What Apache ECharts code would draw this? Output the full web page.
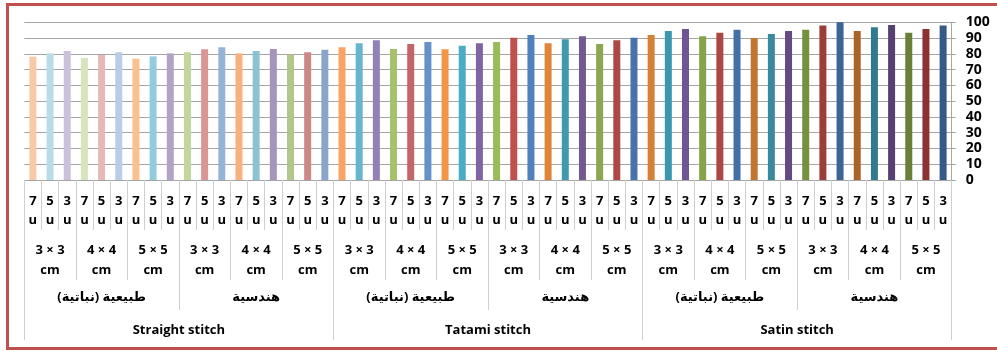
<!DOCTYPE html>
<html>
<head>
<meta charset="utf-8">
<script src="https://cdn.jsdelivr.net/npm/echarts@6/dist/echarts.min.js"></script>
<style>
  html, body { margin: 0; padding: 0; background: #fff; }
  #chart { width: 997px; height: 351px; }
</style>
</head>
<body>
<div id="chart"></div>
<script>
// Hierarchy of categories: stitch > motif type > size > needle
const stitches = ['Straight stitch', 'Tatami stitch', 'Satin stitch'];
const motifTypes = ['طبيعية (نباتية)', 'هندسية'];
const sizes = ['3 × 3\ncm', '4 × 4\ncm', '5 × 5\ncm'];
const needles = ['7\nu', '5\nu', '3\nu'];

// Scores for each combination, in category order
const straightValues = [78.2, 80.3, 81.8, 77.4, 79.3, 81.0, 76.9, 78.4, 80.3,
                        81.0, 82.9, 84.1, 80.3, 81.8, 83.1, 79.5, 81.0, 82.6];
const tatamiValues   = [84.1, 86.7, 88.6, 83.1, 86.2, 87.5, 82.9, 85.2, 86.7,
                        87.5, 90.2, 92.0, 86.7, 89.2, 91.1, 86.2, 88.6, 90.2];
const satinValues    = [92.0, 94.5, 95.8, 91.1, 93.4, 95.3, 90.0, 92.6, 94.5,
                        95.3, 97.9, 100.0, 94.5, 96.8, 98.3, 93.4, 95.8, 97.9];

const yTicks = { min: 0, max: 100, step: 10 };

// Bar colours, one per bar
const barColors = [
  '#FAC9A8', '#B7DDE8', '#CCC1DA', '#D7E4BD', '#E6B9B8', '#B9CDE5',
  '#FAC090', '#93CDDD', '#B3A2C7', '#C3D69B', '#D99694', '#95B3D7',
  '#F8B07F', '#8CC3D3', '#A594BC', '#B4C78A', '#CC8886', '#8BA4CC',
  '#F9A466', '#66B5CC', '#9280B6', '#A5C26A', '#C46665', '#6690C8',
  '#F39545', '#4BACC6', '#8064A2', '#9BBB59', '#C0504D', '#4F81BD',
  '#E0843A', '#4099B0', '#725A91', '#8AA752', '#AC4845', '#4673AA',
  '#D58034', '#3B97AE', '#6F5693', '#84A34B', '#AD4744', '#4370A8',
  '#C27431', '#3A8A9E', '#634A83', '#76913E', '#9C3D3A', '#3E6496',
  '#AA6428', '#317A8C', '#563F73', '#697F37', '#8C3331', '#365A88'
];

// Build the category lists for each level of the axis
const needleCats = [], sizeCats = [], typeCats = [];
stitches.forEach(() => motifTypes.forEach(t => {
  typeCats.push(t);
  sizes.forEach(s => {
    sizeCats.push(s);
    needles.forEach(n => needleCats.push(n));
  });
}));
const values = straightValues.concat(tatamiValues, satinValues);

const font = '"Open Sans", "DejaVu Sans", sans-serif';
const sepColor = '#CFCFCF';

function levelAxis(data, tickLen, margin, lineHeight) {
  return {
    type: 'category',
    data: data,
    position: 'bottom',
    gridIndex: 0,
    axisLine: { show: false },
    axisTick: { show: true, interval: 0, length: tickLen, lineStyle: { color: sepColor, width: 1 } },
    axisLabel: {
      interval: 0, margin: margin, color: '#000', fontWeight: 'bold',
      fontFamily: font, fontSize: 13, lineHeight: lineHeight
    },
    splitLine: { show: false }
  };
}

const chart = echarts.init(document.getElementById('chart'), null, { renderer: 'canvas' });

const needleAxis = levelAxis(needleCats, 50, 12, 19);
needleAxis.axisLine = { show: true, lineStyle: { color: '#A6A6A6', width: 1 } };

chart.setOption({
  animation: false,
  backgroundColor: '#fff',
  grid: { left: 24.3, right: 45.3, top: 22.3, bottom: 171, containLabel: false },
  xAxis: [
    needleAxis,
    levelAxis(sizeCats, 100, 61, 19.5),
    levelAxis(typeCats, 130, 108, 19),
    levelAxis(stitches, 160, 141, 19)
  ],
  yAxis: {
    type: 'value',
    position: 'right',
    min: yTicks.min, max: yTicks.max, interval: yTicks.step,
    axisLine: { show: true, lineStyle: { color: '#A6A6A6', width: 1 } },
    axisTick: { show: true, length: 4, lineStyle: { color: '#A6A6A6' } },
    splitLine: { show: true, lineStyle: { color: '#A6A6A6', width: 1 } },
    axisLabel: { margin: 14, color: '#000', fontWeight: 'bold', fontFamily: font, fontSize: 14 }
  },
  series: [{
    type: 'bar',
    xAxisIndex: 0,
    barWidth: 7,
    data: values.map((v, i) => ({ value: v, itemStyle: { color: barColors[i] } }))
  }],
  graphic: [{
    type: 'rect',
    silent: true,
    shape: { x: 7.5, y: 4.5, width: 1000, height: 344 },
    style: { fill: 'none', stroke: '#C0504D', lineWidth: 3 },
    z: 100
  }]
});
</script>
</body>
</html>
